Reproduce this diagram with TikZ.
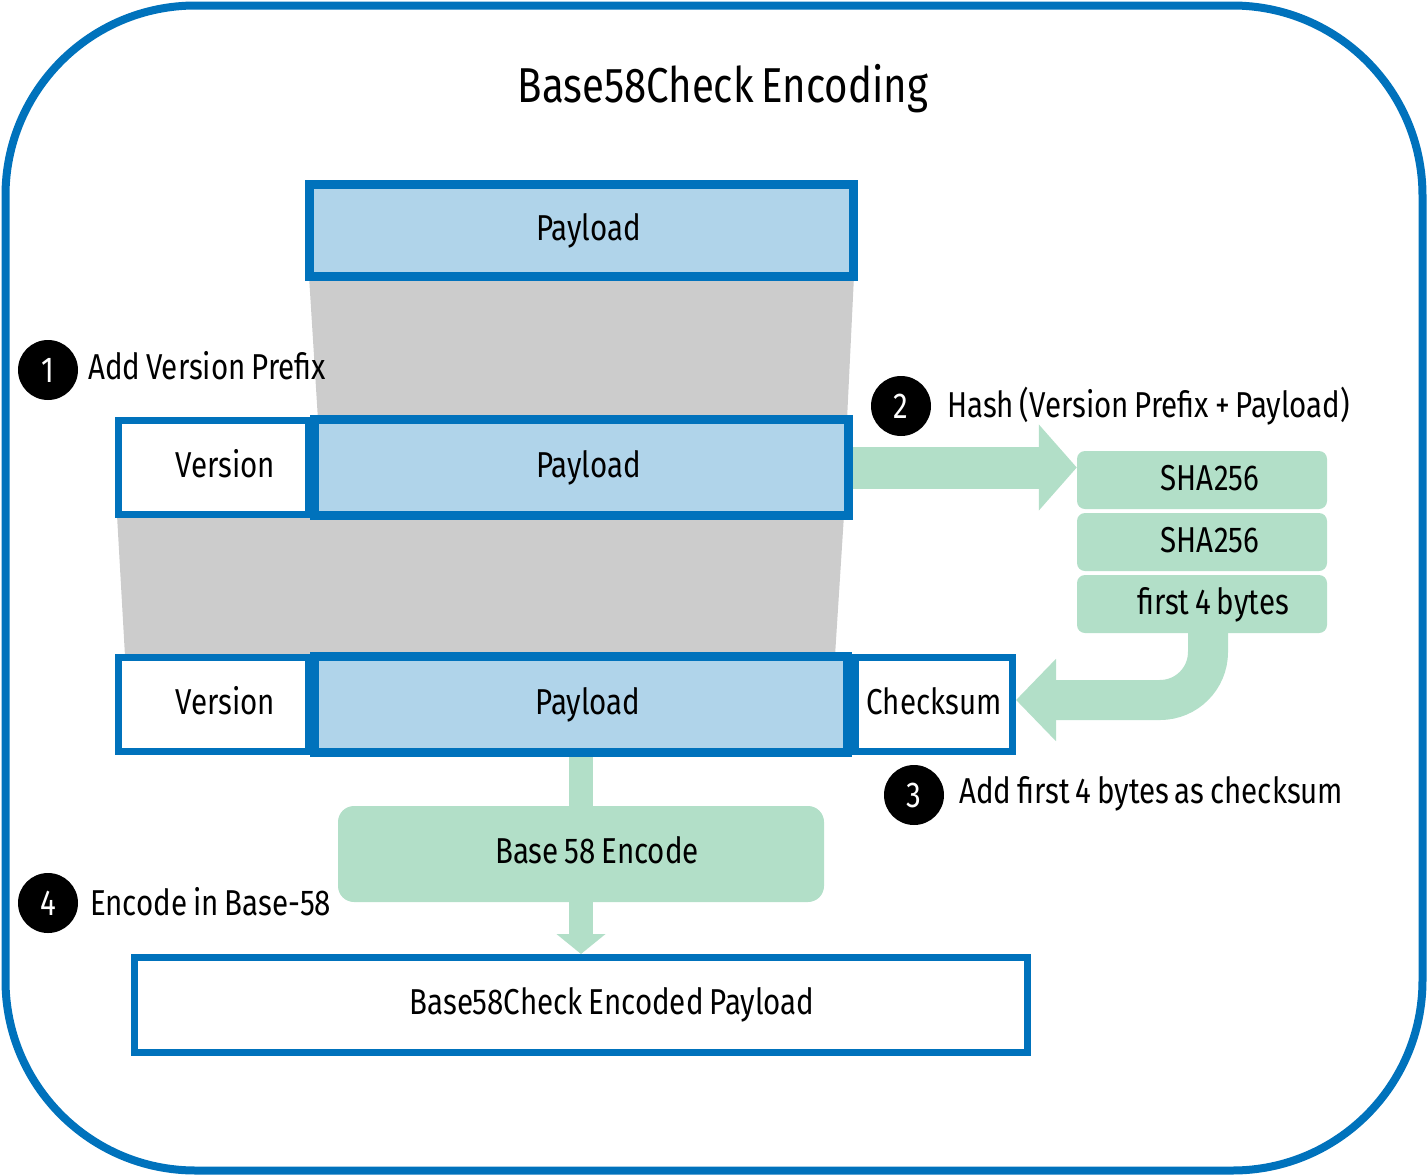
\documentclass[tikz,border=0pt]{standalone}
\usepackage{fontspec}
\setmainfont[FakeStretch=0.82,WordSpace=0.75]{Fira Sans}
\usetikzlibrary{arrows.meta}
\definecolor{blueB}{RGB}{0,114,188}
\definecolor{blueF}{RGB}{176,212,234}
\definecolor{greenF}{RGB}{178,223,200}
\definecolor{grayF}{RGB}{204,204,204}
\begin{document}
\begin{tikzpicture}[x=1pt,y=-1pt,
  txt/.style={font=\fontsize{36}{40}\selectfont},
  box/.style={txt, draw=blueB, inner sep=0pt, text height=25pt, text depth=6pt},
  paybox/.style={box, fill=blueF, line width=9pt},
  verbox/.style={box, fill=white, line width=7pt},
  greenbox/.style={txt, fill=greenF, rounded corners=8pt, inner sep=0pt, text height=25pt, text depth=4pt},
  num/.style={circle, fill=black, minimum size=60pt, inner sep=0pt, text=white, font=\fontsize{36}{40}\selectfont, text height=25pt, text depth=0pt},
  lbl/.style={txt, anchor=base west, inner sep=0pt},
  fatarrow/.style={draw=greenF, line width=42pt, -{Triangle[length=38pt, width=84pt]}},
  bendarrow/.style={draw=greenF, line width=40pt, rounded corners=48pt, -{Triangle[length=40pt, width=80pt]}},
  shaft/.style={draw=greenF, line width=24pt},
]
\useasboundingbox (0,0) rectangle (1428,1176);
% outer frame
\draw[blueB, line width=8pt, rounded corners=190pt] (5.5,5.5) rectangle (1422.5,1170.5);
% title
\node[anchor=base, inner sep=0pt, font=\fontsize{49}{56}\selectfont] (title) at (723,102) {Base58Check Encoding};
% gray trapezoids
\fill[grayF] (309,276) -- (854,276) -- (847,420) -- (318,420) -- cycle;
\fill[grayF] (117,515) -- (844,515) -- (835,656) -- (125,656) -- cycle;
% top payload
\node[paybox, minimum width=544pt, minimum height=92pt] (pay1) at (581.5,230.5) {\hspace*{14pt}Payload};
% middle row
\node[verbox, minimum width=190pt, minimum height=94pt] (ver2) at (213.5,467.5) {\hspace*{24pt}Version};
\node[paybox, minimum width=534pt, minimum height=96pt] (pay2) at (581.5,467.5) {\hspace*{14pt}Payload};
% bottom row
\node[verbox, minimum width=190pt, minimum height=94pt] (ver3) at (213.5,704.5) {\hspace*{24pt}Version};
\node[verbox, minimum width=157pt, minimum height=94pt] (chk) at (934,704.5) {Checksum};
\node[paybox, minimum width=533pt, minimum height=96pt] (pay3) at (581,704.5) {\hspace*{14pt}Payload};
% hash boxes
\node[greenbox, minimum width=250pt, minimum height=58pt] (sha1) at (1202,480) {\hspace*{16pt}SHA256};
\node[greenbox, minimum width=250pt, minimum height=58pt] (sha2) at (1202,542) {\hspace*{16pt}SHA256};
\node[greenbox, minimum width=250pt, minimum height=58pt] (bytes) at (1202,604) {\hspace*{22pt}first 4 bytes};
% base58 encode box
\node[greenbox, rounded corners=16pt, minimum width=486pt, minimum height=96pt, text depth=6pt] (b58) at (581,854) {\hspace*{32pt}Base 58 Encode};
% final box
\node[verbox, minimum width=893pt, minimum height=95pt] (final) at (581,1005) {\hspace*{62pt}Base58Check Encoded Payload};
% arrows
\draw[fatarrow] (pay2.east) -- (pay2.east -| sha1.west);
\draw[bendarrow] ([xshift=6pt]bytes.south) |- ([yshift=4.5pt]chk.east);
\draw[shaft] (pay3.south) -- (b58.north);
\draw[shaft, -{Triangle[length=20pt, width=48pt]}] (b58.south) -- (final.north);
% step markers
\node[num] (c1) at (48,370) {1};
\node[lbl] (l1) at (88,379) {Add Version Prefix};
\node[num] (c2) at (901,406) {2};
\node[lbl] (l2) at (947,417) {Hash (Version Prefix + Payload)};
\node[num] (c3) at (914,795) {3};
\node[lbl] (l3) at (959,803) {Add first 4 bytes as checksum};
\node[num] (c4) at (48,903) {4};
\node[lbl] (l4) at (90,915) {Encode in Base-58};
\end{tikzpicture}
\end{document}
